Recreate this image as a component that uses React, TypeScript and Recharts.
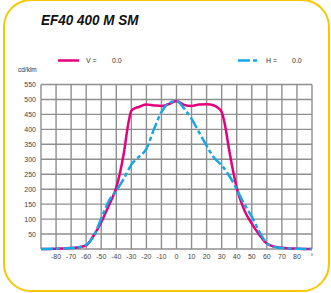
import React from 'react';
import { LineChart, Line, XAxis, YAxis, CartesianGrid } from 'recharts';

const title = 'EF40 400 M SM';
const unitLabel = 'cd/klm';
const seriesNames = ['V =', 'H ='];
const seriesValues = ['0.0', '0.0'];

const xTicks = [-90, -80, -70, -60, -50, -40, -30, -20, -10, 0, 10, 20, 30, 40, 50, 60, 70, 80, 90];
const yTicks = [0, 50, 100, 150, 200, 250, 300, 350, 400, 450, 500, 550];

const vAngles = [-90, -85, -80, -75, -70, -65, -60, -55, -50, -45, -40, -35, -32, -30, -27, -25, -20, -15, -10, -5, 0, 5, 10, 15, 20, 25, 28, 30, 32, 35, 40, 45, 50, 55, 60, 65, 70, 75, 80, 85, 90];
const vValues = [0, 0, 1, 2, 3, 6, 12, 45, 90, 145, 205, 320, 420, 462, 472, 475, 483, 480, 478, 485, 495, 482, 478, 483, 484, 480, 470, 458, 420, 330, 205, 130, 85, 48, 18, 8, 4, 2, 1, 0, 0];

const hAngles = [-90, -80, -70, -65, -60, -55, -50, -45, -40, -35, -30, -25, -20, -15, -10, -5, 0, 5, 10, 15, 20, 25, 30, 35, 40, 45, 50, 55, 60, 65, 70, 80, 90];
const hValues = [0, 1, 3, 6, 14, 42, 102, 160, 195, 235, 282, 308, 335, 400, 458, 488, 495, 470, 435, 390, 345, 305, 280, 245, 200, 150, 108, 58, 20, 7, 3, 1, 0];

const vData = vAngles.map((x, i) => ({ x, v: vValues[i] }));
const hData = hAngles.map((x, i) => ({ x, h: hValues[i] }));

const MAGENTA = '#e5007d';
const CYAN = '#14a8e6';
const DASH = '12 3 4 3';
const FONT = '"Liberation Sans", Arial, sans-serif';

export default function App() {
  return (
    <div style={{ position: 'absolute', left: 0, top: 0, width: 331, height: 293, background: '#fff', overflow: 'hidden', fontFamily: FONT }}>
      <div style={{ position: 'absolute', left: 3, top: -1, width: 327, height: 293, border: '2px solid #f7c800', borderRadius: 28, boxSizing: 'border-box' }} />
      <div style={{ position: 'absolute', left: 41, top: 10, fontSize: 15.5, fontWeight: 'bold', fontStyle: 'italic', color: '#111', lineHeight: '20px', whiteSpace: 'nowrap', transform: 'scaleX(0.87)', transformOrigin: 'left top' }}>{title}</div>
      <svg style={{ position: 'absolute', left: 0, top: 0 }} width={331} height={80}>
        <line x1={58} x2={79} y1={60.5} y2={60.5} stroke={MAGENTA} strokeWidth={2.5} />
        <text x={86} y={63} fontSize={7} fill="#333" fontFamily={FONT}>{seriesNames[0]}</text>
        <text x={112} y={63} fontSize={7} fill="#333" fontFamily={FONT}>{seriesValues[0]}</text>
        <line x1={238} x2={258} y1={60.5} y2={60.5} stroke={CYAN} strokeWidth={2.5} strokeDasharray={DASH} />
        <text x={266} y={63} fontSize={7} fill="#333" fontFamily={FONT}>{seriesNames[1]}</text>
        <text x={292} y={63} fontSize={7} fill="#333" fontFamily={FONT}>{seriesValues[1]}</text>
        <text x={18} y={72} fontSize={6.5} fill="#333" fontFamily={FONT}>{unitLabel}</text>
      </svg>
      <div style={{ position: 'absolute', left: 0, top: 0 }}>
        <LineChart width={331} height={293} margin={{ top: 84.5, right: 19, bottom: 24, left: 0 }}>
          <CartesianGrid stroke="#8f8f8f" strokeWidth={1.4} />
          <XAxis
            dataKey="x"
            type="number"
            domain={[-90, 90]}
            ticks={xTicks}
            interval={0}
            allowDataOverflow
            height={20}
            axisLine={false}
            tickLine={false}
            tickSize={3}
            tick={{ fontSize: 7, fill: '#444', fontFamily: FONT }}
            tickFormatter={(t: number) => (t === -90 ? '' : t === 90 ? '°' : String(t))}
          />
          <YAxis
            type="number"
            domain={[0, 550]}
            ticks={yTicks}
            interval={0}
            width={41}
            axisLine={false}
            tickLine={false}
            tickSize={3}
            tick={{ fontSize: 7, fill: '#444', fontFamily: FONT }}
            tickFormatter={(t: number) => (t === 0 ? '' : String(t))}
          />
          <Line data={vData} dataKey="v" type="monotone" stroke={MAGENTA} strokeWidth={2.5} dot={false} isAnimationActive={false} />
          <Line data={hData} dataKey="h" type="monotone" stroke={CYAN} strokeWidth={2.5} strokeDasharray={DASH} dot={false} isAnimationActive={false} />
        </LineChart>
      </div>
    </div>
  );
}
